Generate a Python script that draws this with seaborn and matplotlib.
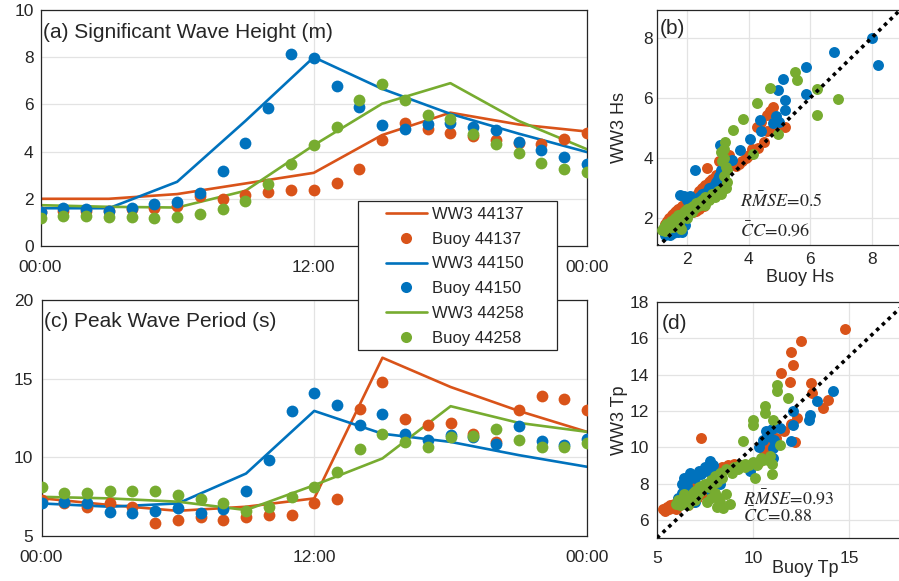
import matplotlib
matplotlib.use("Agg")
import matplotlib.pyplot as plt
import seaborn as sns
import pandas as pd
from matplotlib.patches import Rectangle
from matplotlib.lines import Line2D

# ---------------- data ----------------
stations = ["44137", "44150", "44258"]
colors = {"44137": "#D95319", "44150": "#0072BD", "44258": "#77AC30"}

hours = list(range(25))
model_hours = [0, 3, 6, 9, 12, 15, 18, 21, 24]
time_tick_pos = [0, 12, 24]
time_tick_labels = ["00:00", "12:00", "00:00"]

ww3_hs_44137 = [2.0, 2.0, 2.2, 2.65, 3.1, 4.7, 5.65, 5.15, 4.85]
ww3_hs_44150 = [1.6, 1.6, 2.72, 5.3, 8.0, 6.66, 5.6, 4.76, 3.98]
ww3_hs_44258 = [1.73, 1.66, 1.63, 2.34, 4.27, 6.03, 6.9, 5.3, 4.1]

buoy_hs_44137 = [1.45, 1.5, 1.5, 1.5, 1.55, 1.6, 1.7, 2.1, 2.0, 2.15, 2.3, 2.37, 2.37,
                 2.65, 3.28, 4.48, 5.2, 4.97, 4.79, 4.65, 4.48, 4.37, 4.31, 4.55, 4.79]
buoy_hs_44150 = [1.45, 1.6, 1.55, 1.5, 1.63, 1.77, 1.87, 2.25, 3.18, 4.37, 5.86, 8.14, 7.97,
                 6.76, 5.89, 5.14, 4.97, 5.18, 5.21, 5.04, 4.9, 4.41, 4.06, 3.77, 3.49]
buoy_hs_44258 = [1.17, 1.27, 1.27, 1.21, 1.21, 1.17, 1.24, 1.35, 1.55, 1.92, 2.62, 3.46, 4.27,
                 5.04, 6.17, 6.87, 6.2, 5.56, 5.39, 4.73, 4.31, 3.92, 3.52, 3.28, 3.14]

ww3_tp_44137 = [7.4, 6.97, 6.6, 6.86, 7.39, 16.33, 14.47, 12.95, 11.62]
ww3_tp_44150 = [7.07, 6.86, 7.07, 8.97, 12.95, 11.5, 10.98, 10.14, 9.4]
ww3_tp_44258 = [7.49, 7.39, 7.18, 6.65, 8.23, 9.93, 13.25, 12.19, 11.62]

buoy_tp_44137 = [7.28, 7.07, 6.86, 7.07, 6.86, 5.8, 6.01, 6.23, 6.01, 6.18, 6.33, 6.33, 7.11,
                 7.33, 13.1, 14.79, 12.46, 12.04, 12.19, 11.51, 11.0, 12.99, 13.88, 13.73, 12.99]
buoy_tp_44150 = [7.07, 7.18, 7.07, 6.54, 6.44, 6.6, 6.8, 6.48, 6.69, 7.88, 9.82, 12.95, 14.09,
                 13.35, 12.04, 12.78, 11.47, 11.09, 11.41, 11.3, 10.83, 11.98, 11.03, 10.77, 11.19]
buoy_tp_44258 = [8.13, 7.71, 7.71, 7.88, 7.88, 7.88, 7.6, 7.33, 7.07, 6.6, 6.82, 7.45, 8.13,
                 9.08, 10.56, 11.47, 10.98, 10.67, 11.3, 11.34, 11.83, 11.09, 10.67, 10.67, 10.88]

# scatter (b): buoy Hs vs WW3 Hs
sc_hs_buoy_44137 = [1.3, 1.4, 1.5, 1.6, 1.7, 1.8, 1.9, 2.0, 2.1, 2.2, 2.3, 2.4, 2.5, 2.6, 2.7, 2.8,
                    2.9, 3.0, 3.1, 3.2, 3.3, 3.4, 2.64, 3.05, 1.9, 2.2, 2.4, 2.6, 1.8, 1.5,
                    3.7, 3.9, 4.0, 4.1, 4.26, 4.4, 4.59, 4.7, 4.8, 4.9, 5.0, 5.18, 4.6, 3.94, 4.8,
                    1.35, 1.45, 1.55, 1.65, 1.75, 1.85, 1.95, 2.05, 2.15, 2.25, 2.35, 2.45, 2.55,
                    2.75, 2.95, 3.15, 3.3, 3.35, 2.0, 2.3, 2.55, 3.6, 3.8, 4.3, 4.5]
sc_hs_ww3_44137 = [1.8, 2.0, 2.1, 2.2, 2.3, 2.35, 2.4, 2.45, 2.5, 2.6, 2.7, 2.9, 3.0, 3.1, 3.2, 3.3,
                   3.35, 3.4, 3.5, 3.7, 3.8, 3.85, 3.66, 3.9, 2.0, 2.2, 2.3, 2.6, 1.75, 1.7,
                   3.8, 4.0, 4.1, 4.3, 5.03, 5.2, 5.42, 5.55, 5.7, 5.1, 5.05, 5.03, 4.9, 4.04, 5.0,
                   1.9, 1.95, 2.15, 2.25, 2.3, 2.4, 2.5, 2.55, 2.6, 2.75, 2.8, 2.95, 3.05,
                   3.25, 3.45, 3.6, 3.95, 4.1, 2.15, 2.25, 2.4, 3.75, 3.9, 4.35, 4.55]
sc_hs_buoy_44150 = [1.4, 1.5, 1.6, 1.7, 1.8, 1.94, 1.77, 1.9, 2.0, 2.1, 2.2, 2.3, 2.5, 2.7, 2.9,
                    3.0, 3.1, 3.07, 2.26, 3.45, 3.72, 4.05, 4.4, 4.37, 4.8, 5.18, 5.18, 4.96, 5.1,
                    5.86, 5.86, 6.78, 8.0, 8.19, 4.9, 5.0, 2.0, 2.4, 1.6, 1.3,
                    1.35, 1.45, 1.55, 1.65, 1.75, 1.85, 2.05, 2.15, 2.25, 2.35, 2.6, 2.8, 2.95,
                    3.05, 1.9, 2.1]
sc_hs_ww3_44150 = [1.5, 1.55, 1.6, 1.55, 1.6, 1.78, 2.77, 2.75, 2.6, 2.5, 2.4, 2.6, 2.8, 3.0, 3.1,
                   3.3, 3.6, 4.43, 3.6, 3.95, 4.26, 4.62, 4.9, 5.26, 5.15, 5.6, 5.92, 6.27, 6.62,
                   6.14, 7.04, 7.52, 8.0, 7.1, 5.4, 5.2, 2.3, 2.7, 1.9, 1.45,
                   1.5, 1.45, 1.5, 1.65, 1.7, 1.55, 2.2, 2.35, 2.45, 2.55, 2.85, 3.05, 3.2,
                   3.4, 2.1, 2.75]
sc_hs_buoy_44258 = [1.2, 1.25, 1.3, 1.35, 1.4, 1.5, 1.55, 1.6, 1.7, 1.75, 1.8, 1.9, 2.0, 2.1, 2.2,
                    2.3, 2.4, 2.5, 2.6, 2.8, 3.0, 3.2, 3.3, 3.2, 3.25, 3.2, 3.24, 3.5, 3.83, 4.26,
                    4.69, 5.5, 5.56, 6.21, 6.91, 6.21, 4.96, 4.15, 3.1, 1.8, 2.0, 2.6,
                    1.22, 1.28, 1.32, 1.38, 1.45, 1.48, 1.58, 1.62, 1.68, 1.72, 1.85, 1.95, 2.05,
                    2.15, 2.25, 2.35, 2.45, 2.55, 2.7, 2.9, 3.1, 3.25, 3.3, 3.15, 3.2]
sc_hs_ww3_44258 = [1.6, 1.7, 1.75, 1.65, 1.8, 1.85, 1.7, 1.9, 2.0, 1.8, 2.1, 2.2, 2.3, 2.35, 2.4,
                   2.5, 2.55, 2.6, 2.7, 2.8, 2.9, 3.0, 3.2, 3.4, 3.7, 4.0, 4.54, 4.95, 5.31, 5.83,
                   6.34, 6.85, 6.58, 6.3, 5.97, 5.42, 4.81, 4.15, 4.2, 1.65, 2.0, 2.45,
                   1.65, 1.58, 1.8, 1.72, 1.75, 1.9, 1.8, 2.0, 1.85, 2.1, 2.15, 2.25, 2.3,
                   2.2, 2.35, 2.4, 2.45, 2.5, 2.6, 2.7, 2.8, 3.0, 3.6, 3.9, 4.3]

# scatter (d): buoy Tp vs WW3 Tp
sc_tp_buoy_44137 = [5.3, 5.5, 5.7, 5.9, 6.1, 6.0, 6.3, 6.6, 6.9, 7.1, 7.3, 7.6, 7.9, 8.2, 8.5, 8.8,
                    9.1, 6.4, 6.8, 7.28, 10.3, 10.45, 10.8, 11.2, 11.6, 12.0, 12.3, 11.44, 11.93,
                    12.07, 12.0, 12.48, 14.79, 13.0, 13.1, 13.92, 13.66, 12.2,
                    5.4, 5.6, 5.8, 6.2, 6.5, 6.7, 7.0, 7.4, 7.8, 8.1, 8.4, 8.7, 9.0, 10.6, 11.0]
sc_tp_ww3_44137 = [6.6, 6.7, 6.8, 6.9, 7.1, 6.6, 7.0, 6.8, 7.0, 7.2, 7.4, 7.6, 8.0, 8.5, 8.8, 8.9,
                   9.0, 7.6, 7.8, 10.51, 9.2, 10.05, 10.3, 10.5, 10.9, 11.3, 11.6, 14.08, 13.62,
                   14.54, 15.27, 15.86, 16.5, 13.53, 12.98, 12.6, 12.16, 10.3,
                   6.5, 6.6, 6.7, 6.8, 7.0, 7.1, 7.3, 7.5, 8.7, 8.8, 8.9, 9.0, 9.1, 9.8, 10.5]
sc_tp_buoy_44150 = [6.2, 6.4, 6.5, 6.55, 6.72, 7.0, 7.3, 7.76, 7.6, 8.0, 6.3, 6.6, 7.0, 9.84, 10.3,
                    10.8, 11.06, 11.06, 11.4, 12.0, 12.07, 12.97, 13.32, 14.18, 11.0, 10.5, 7.8, 8.3,
                    6.1, 6.3, 6.4, 6.6, 6.9, 7.2, 7.5, 7.9, 6.5, 6.8, 7.2, 10.7, 11.1, 12.1, 12.9,
                    9.8]
sc_tp_ww3_44150 = [6.9, 7.3, 7.6, 7.86, 8.6, 8.3, 8.5, 9.22, 8.7, 8.6, 8.0, 7.2, 7.0, 8.68, 10.0,
                   10.6, 9.96, 9.4, 11.06, 10.32, 11.97, 11.79, 12.52, 13.07, 11.0, 10.4, 7.6, 8.0,
                   7.2, 7.5, 8.3, 8.2, 8.4, 8.7, 8.9, 9.0, 6.9, 7.4, 7.7, 10.9, 10.4, 11.2, 11.5,
                   8.9]
sc_tp_buoy_44258 = [6.0, 6.3, 6.5, 6.8, 7.0, 7.2, 7.5, 7.8, 8.0, 8.3, 8.6, 9.0, 9.3, 9.6, 10.0, 10.5,
                    8.45, 8.8, 7.6, 8.0, 8.2, 7.0, 6.6, 10.1, 10.19, 11.0, 11.0, 11.4, 9.5, 9.98,
                    9.98, 10.62, 10.62, 11.84, 11.23, 11.23, 11.06, 10.9,
                    6.1, 6.2, 6.4, 6.7, 6.9, 7.1, 7.3, 7.4, 7.7, 7.9, 8.1, 8.4, 8.6, 8.3, 8.9,
                    9.2, 9.6, 9.8, 10.2, 10.4, 10.8, 8.1, 7.8]
sc_tp_ww3_44258 = [6.9, 7.0, 7.2, 7.3, 7.6, 7.8, 8.0, 8.2, 8.4, 8.6, 8.8, 8.9, 9.0, 9.1, 9.2, 9.3,
                   6.64, 6.85, 7.0, 7.5, 7.2, 7.1, 6.8, 8.31, 9.05, 9.05, 8.5, 10.14, 10.32, 11.25,
                   11.52, 11.9, 12.25, 12.71, 13.07, 13.45, 11.5, 9.5,
                   7.1, 6.8, 7.4, 7.0, 7.5, 7.3, 7.6, 7.9, 7.8, 8.0, 8.1, 8.3, 7.4, 7.0, 8.6,
                   8.8, 8.9, 9.0, 9.0, 9.4, 9.3, 6.7, 7.2]

rmse_hs, cc_hs = "0.5", "0.96"
rmse_tp, cc_tp = "0.93", "0.88"

# ---------------- style ----------------
sns.set_theme(style="white")
plt.rcParams["font.family"] = ["Liberation Sans", "DejaVu Sans"]
plt.rcParams["mathtext.fontset"] = "stix"
TXT = "#262626"

W, H = 899, 581
fig = plt.figure(figsize=(W / 100, H / 100), dpi=100)


def px_axes(l, t, r, b):
    return fig.add_axes([l / W, 1 - b / H, (r - l) / W, (b - t) / H])


ax_a = px_axes(40.5, 10, 587, 246)
ax_c = px_axes(41.5, 300, 587, 536)
ax_b = px_axes(657, 10, 943, 245)
ax_d = px_axes(657, 302, 943, 538)

ww3_hs = {"44137": ww3_hs_44137, "44150": ww3_hs_44150, "44258": ww3_hs_44258}
buoy_hs = {"44137": buoy_hs_44137, "44150": buoy_hs_44150, "44258": buoy_hs_44258}
ww3_tp = {"44137": ww3_tp_44137, "44150": ww3_tp_44150, "44258": ww3_tp_44258}
buoy_tp = {"44137": buoy_tp_44137, "44150": buoy_tp_44150, "44258": buoy_tp_44258}
sc_hs = {"44137": (sc_hs_buoy_44137, sc_hs_ww3_44137),
         "44150": (sc_hs_buoy_44150, sc_hs_ww3_44150),
         "44258": (sc_hs_buoy_44258, sc_hs_ww3_44258)}
sc_tp = {"44137": (sc_tp_buoy_44137, sc_tp_ww3_44137),
         "44150": (sc_tp_buoy_44150, sc_tp_ww3_44150),
         "44258": (sc_tp_buoy_44258, sc_tp_ww3_44258)}

LW = 1.9
MS = 72


def style_axes(ax, xpad, ypad):
    for s in ax.spines.values():
        s.set_color(TXT)
        s.set_linewidth(0.9)
    ax.tick_params(direction="in", length=4, width=0.8, colors=TXT,
                   labelsize=12.5, top=False, right=False)
    ax.tick_params(axis="x", pad=xpad)
    ax.tick_params(axis="y", pad=ypad)
    ax.grid(True, color="#e3e3e3", linewidth=0.9)
    ax.set_axisbelow(True)


for ax, model, buoy, ylim, yt, ypad in [(ax_a, ww3_hs, buoy_hs, (0, 10), [0, 2, 4, 6, 8, 10], 5),
                                        (ax_c, ww3_tp, buoy_tp, (5, 20), [5, 10, 15, 20], 6)]:
    for st in stations:
        dm = pd.DataFrame({"hour": model_hours, "val": model[st]})
        db = pd.DataFrame({"hour": hours, "val": buoy[st]})
        sns.lineplot(data=dm, x="hour", y="val", ax=ax, color=colors[st],
                     linewidth=LW, legend=False)
        sns.scatterplot(data=db, x="hour", y="val", ax=ax, color=colors[st],
                        s=MS, linewidth=0, legend=False, zorder=3)
    ax.set_xlim(0, 24)
    ax.set_ylim(*ylim)
    ax.set_xticks(time_tick_pos)
    ax.set_xticklabels(time_tick_labels)
    ax.set_yticks(yt)
    ax.set_xlabel("")
    ax.set_ylabel("")
    style_axes(ax, 10, ypad)

ax_a.text(0.005, 0.905, "(a) Significant Wave Height (m)", transform=ax_a.transAxes,
          fontsize=15, color=TXT, va="center", ha="left")
ax_c.text(0.004, 0.91, "(c) Peak Wave Period (s)", transform=ax_c.transAxes,
          fontsize=15, color=TXT, va="center", ha="left")

for ax, data, xl, yl, xt, yt, xlab, ylab, xpad, ypad in [
        (ax_b, sc_hs, (1.026, 10.31), (1.116, 8.917), [2, 4, 6, 8], [2, 4, 6, 8],
         "Buoy Hs", "WW3 Hs", 5, 3),
        (ax_d, sc_tp, (5, 19.9), (5, 18), [5, 10, 15], [6, 8, 10, 12, 14, 16, 18],
         "Buoy Tp", "WW3 Tp", 9.5, 6)]:
    for st in stations:
        d = pd.DataFrame({"buoy": data[st][0], "ww3": data[st][1]})
        sns.scatterplot(data=d, x="buoy", y="ww3", ax=ax, color=colors[st],
                        s=62, linewidth=0, legend=False, zorder=3)
    lo = min(xl[0], yl[0])
    hi = max(xl[1], yl[1])
    ax.plot([lo, hi], [lo, hi], linestyle=(0, (1, 1.2)), color="black",
            linewidth=2.6, zorder=4)
    ax.set_xlim(*xl)
    ax.set_ylim(*yl)
    ax.set_xticks(xt)
    ax.set_yticks(yt)
    style_axes(ax, xpad, ypad)
    ax.set_xlabel(xlab, fontsize=13, color=TXT)
    ax.set_ylabel(ylab, fontsize=13, color=TXT)

ax_b.xaxis.set_label_coords(0.5, -0.1)
ax_b.yaxis.set_label_coords(-0.10, 0.5)
ax_d.xaxis.set_label_coords(0.52, -0.095)
ax_d.yaxis.set_label_coords(-0.10, 0.5)

ax_b.text(0.01, 0.92, "(b)", transform=ax_b.transAxes, fontsize=15, color=TXT,
          va="center", ha="left")
ax_d.text(0.015, 0.91, "(d)", transform=ax_d.transAxes, fontsize=15, color=TXT,
          va="center", ha="left")

ax_b.text(0.29, 0.184, r"$R\bar{M}SE\!=\!" + rmse_hs + "$", transform=ax_b.transAxes,
          fontsize=13, color=TXT, va="center", ha="left", zorder=5)
ax_b.text(0.29, 0.064, r"$\bar{C}C\!=\!" + cc_hs + "$", transform=ax_b.transAxes,
          fontsize=13, color=TXT, va="center", ha="left", zorder=5)
ax_d.text(0.30, 0.168, r"$R\bar{M}SE\!=\!" + rmse_tp + "$", transform=ax_d.transAxes,
          fontsize=13, color=TXT, va="center", ha="left", zorder=5)
ax_d.text(0.30, 0.090, r"$\bar{C}C\!=\!" + cc_tp + "$", transform=ax_d.transAxes,
          fontsize=13, color=TXT, va="center", ha="left", zorder=5)

# legend box
fig.patches.append(Rectangle((358 / W, 1 - 350 / H), (557 - 358) / W, (350 - 201) / H,
                             transform=fig.transFigure, facecolor="white",
                             edgecolor=TXT, linewidth=0.9, zorder=4))
handles, labels = [], []
for st in stations:
    handles.append(Line2D([], [], color=colors[st], linewidth=LW))
    labels.append("WW3 " + st)
    handles.append(Line2D([], [], color=colors[st], marker="o", linestyle="none",
                          markersize=8, markeredgewidth=0))
    labels.append("Buoy " + st)
leg = fig.legend(handles, labels, loc="upper left",
                 bbox_to_anchor=(386 / W, 1 - 207 / H), frameon=False,
                 fontsize=12, handlelength=2.45, handletextpad=0.3,
                 labelspacing=0.585, borderpad=0, borderaxespad=0)
leg.set_zorder(6)
for t in leg.get_texts():
    t.set_color(TXT)

fig.savefig("out.png", dpi=100)
